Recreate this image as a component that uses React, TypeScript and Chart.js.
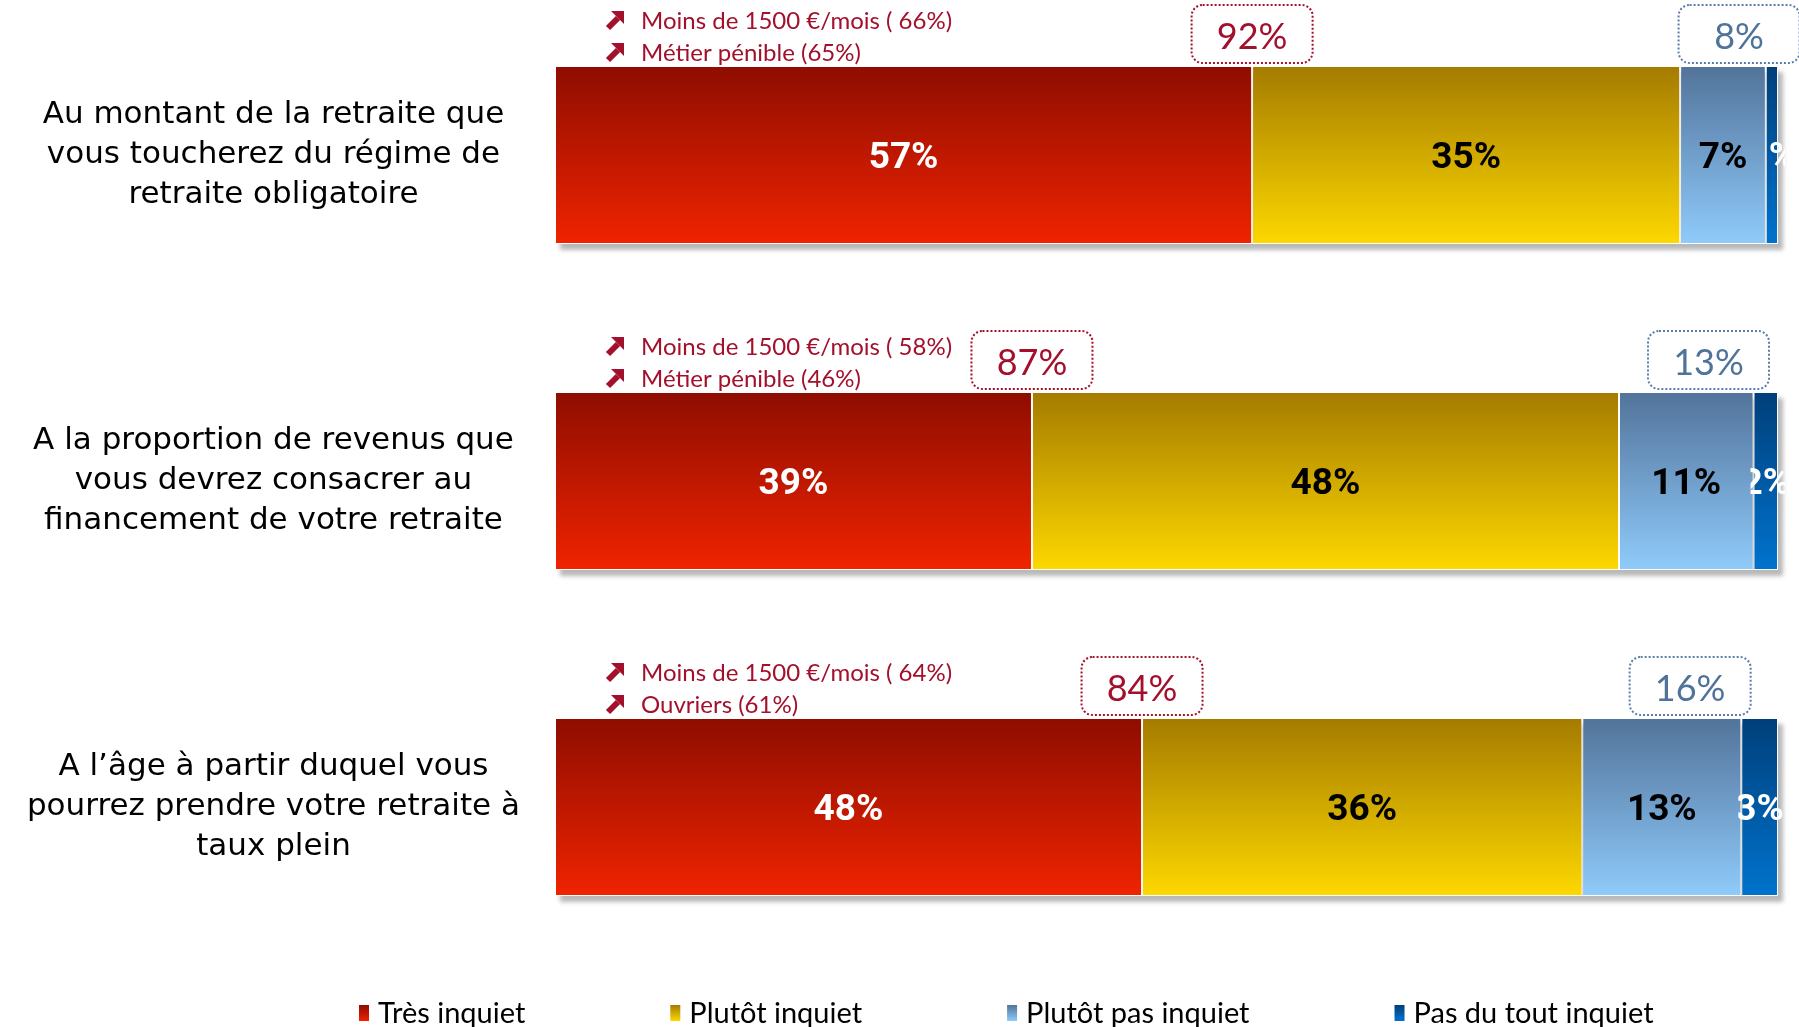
import React, { useEffect, useRef } from "react";
import { Chart, registerables } from "chart.js";

Chart.register(...registerables);

// ---------- data ----------
const categories: string[][] = [
  ["Au montant de la retraite que", "vous toucherez du régime de", "retraite obligatoire"],
  ["A la proportion de revenus que", "vous devrez consacrer au", "financement de votre retraite"],
  ["A l’âge à partir duquel vous", "pourrez prendre votre retraite à", "taux plein"],
];
const seriesNames = ["Très inquiet", "Plutôt inquiet", "Plutôt pas inquiet", "Pas du tout inquiet"];
const tresInquiet = [57, 39, 48];
const plutotInquiet = [35, 48, 36];
const plutotPasInquiet = [7, 11, 13];
const pasDuToutInquiet = [1, 2, 3];
const highlightFirst = [
  "Moins de 1500 €/mois ( 66%)",
  "Moins de 1500 €/mois ( 58%)",
  "Moins de 1500 €/mois ( 64%)",
];
const highlightSecond = ["Métier pénible (65%)", "Métier pénible (46%)", "Ouvriers (61%)"];

// ---------- styles ----------
const W = 1799;
const H = 1027;
const SHIFT = 8; // canvas is raised by this many pixels so the first band starts above the page
const CH = H + SHIFT;
const BAR_PCT = 0.546;
const gradientStops: [string, string][] = [
  ["#8E0D00", "#F02300"],
  ["#A47B00", "#FDD800"],
  ["#52739A", "#8FCBFB"],
  ["#003F7A", "#0073CD"],
];
const labelColors = ["#FFFFFF", "#000000", "#000000", "#FFFFFF"];
const RED_TXT = "#A3102C";
const BLUE_TXT = "#4F7399";
const BLUE_BORDER = "#5A7EA8";

function barGradient(chart: any, index: number, series: number) {
  const y = chart.scales?.y;
  if (!y) return gradientStops[series][1];
  const c = y.getPixelForValue(index);
  const half = ((y.bottom - y.top) / categories.length) * BAR_PCT / 2;
  if (!isFinite(c) || !isFinite(half) || half <= 0) return gradientStops[series][1];
  const g = chart.ctx.createLinearGradient(0, c - half, 0, c + half);
  g.addColorStop(0, gradientStops[series][0]);
  g.addColorStop(1, gradientStops[series][1]);
  return g;
}

function roundRect(ctx: CanvasRenderingContext2D, x: number, y: number, w: number, h: number, r: number) {
  ctx.beginPath();
  ctx.moveTo(x + r, y);
  ctx.lineTo(x + w - r, y);
  ctx.arcTo(x + w, y, x + w, y + r, r);
  ctx.lineTo(x + w, y + h - r);
  ctx.arcTo(x + w, y + h, x + w - r, y + h, r);
  ctx.lineTo(x + r, y + h);
  ctx.arcTo(x, y + h, x, y + h - r, r);
  ctx.lineTo(x, y + r);
  ctx.arcTo(x, y, x + r, y, r);
  ctx.closePath();
}

function drawArrow(ctx: CanvasRenderingContext2D, cx: number, cy: number, color: string) {
  ctx.save();
  ctx.fillStyle = color;
  ctx.strokeStyle = color;
  ctx.beginPath();
  ctx.moveTo(cx + 9, cy - 9);
  ctx.lineTo(cx + 9, cy + 4);
  ctx.lineTo(cx - 4, cy - 9);
  ctx.closePath();
  ctx.fill();
  ctx.lineWidth = 6;
  ctx.lineCap = "butt";
  ctx.beginPath();
  ctx.moveTo(cx - 7, cy + 8);
  ctx.lineTo(cx + 3, cy - 2);
  ctx.stroke();
  ctx.restore();
}

const shadowPlugin = {
  id: "barShadow",
  beforeDatasetsDraw(chart: any) {
    const ctx = chart.ctx as CanvasRenderingContext2D;
    const meta0 = chart.getDatasetMeta(0);
    const xs = chart.scales.x;
    meta0.data.forEach((bar: any, i: number) => {
      const total = chart.data.datasets.reduce((s: number, d: any) => s + (d.data[i] as number), 0);
      const x0 = xs.getPixelForValue(0);
      const x1 = xs.getPixelForValue(total);
      const top = bar.y - bar.height / 2;
      ctx.save();
      ctx.filter = "blur(2px)";
      ctx.fillStyle = "rgba(0,0,0,0.28)";
      ctx.fillRect(x0 + 5, top + 6, x1 - x0, bar.height);
      ctx.restore();
    });
  },
};

const labelsPlugin = {
  id: "segmentLabels",
  afterDatasetsDraw(chart: any) {
    const ctx = chart.ctx as CanvasRenderingContext2D;
    const area = chart.chartArea;
    chart.data.datasets.forEach((ds: any, di: number) => {
      const meta = chart.getDatasetMeta(di);
      meta.data.forEach((bar: any, i: number) => {
        const left = Math.min(bar.x, bar.base);
        const right = Math.max(bar.x, bar.base);
        const cx = (left + right) / 2;
        ctx.save();
        ctx.beginPath();
        ctx.rect(left - 3, bar.y - bar.height / 2, area.right + 7 - (left - 3), bar.height);
        ctx.clip();
        ctx.font = "bold 37px Roboto";
        ctx.fillStyle = labelColors[di];
        ctx.textAlign = "center";
        ctx.textBaseline = "middle";
        ctx.fillText(`${ds.data[i]}%`, cx, bar.y + 4);
        ctx.restore();
      });
    });
  },
};

const annotationPlugin = {
  id: "annotations",
  afterDraw(chart: any) {
    const ctx = chart.ctx as CanvasRenderingContext2D;
    const area = chart.chartArea;
    const xs = chart.scales.x;
    const meta0 = chart.getDatasetMeta(0);
    meta0.data.forEach((bar: any, i: number) => {
      const top = bar.y - bar.height / 2;
      ctx.save();
      ctx.font = "24px Lato";
      ctx.fillStyle = RED_TXT;
      ctx.textAlign = "left";
      ctx.textBaseline = "middle";
      const tx = area.left + 86;
      ctx.fillText(highlightFirst[i], tx, top - 45);
      ctx.fillText(highlightSecond[i], tx, top - 13);
      drawArrow(ctx, area.left + 60, top - 46, RED_TXT);
      drawArrow(ctx, area.left + 60, top - 14, RED_TXT);
      ctx.restore();

      const worried = tresInquiet[i] + plutotInquiet[i];
      const notWorried = plutotPasInquiet[i] + pasDuToutInquiet[i];
      const total = worried + notWorried;
      const boxW = 121;
      const boxH = 58;
      const boxBottom = top - 3;

      const drawBox = (cx: number, text: string, border: string, color: string) => {
        ctx.save();
        roundRect(ctx, cx - boxW / 2, boxBottom - boxH, boxW, boxH, 11);
        ctx.fillStyle = "#FFFFFF";
        ctx.fill();
        ctx.setLineDash([2, 2]);
        ctx.lineWidth = 2;
        ctx.strokeStyle = border;
        ctx.stroke();
        ctx.font = "36px Lato";
        ctx.fillStyle = color;
        ctx.textAlign = "center";
        ctx.textBaseline = "middle";
        ctx.fillText(text, cx, boxBottom - boxH / 2 + 3);
        ctx.restore();
      };
      drawBox(xs.getPixelForValue(tresInquiet[i]), `${worried}%`, RED_TXT, RED_TXT);
      drawBox(xs.getPixelForValue((worried + total) / 2) + 10, `${notWorried}%`, BLUE_BORDER, BLUE_TXT);
    });

    // legend
    ctx.save();
    ctx.font = "29px Lato";
    ctx.textBaseline = "middle";
    ctx.textAlign = "left";
    let x = 359;
    const ly = 1013 + SHIFT;
    seriesNames.forEach((name, si) => {
      const g = ctx.createLinearGradient(0, ly - 8, 0, ly + 8);
      g.addColorStop(0, gradientStops[si][0]);
      g.addColorStop(1, gradientStops[si][1]);
      ctx.fillStyle = g;
      ctx.fillRect(x, ly - 8, 10, 16);
      ctx.fillStyle = "#000000";
      ctx.fillText(name, x + 19, ly + 1);
      x += 19 + ctx.measureText(name).width + 145;
    });
    ctx.restore();
  },
};

export default function App() {
  const canvasRef = useRef<HTMLCanvasElement | null>(null);

  useEffect(() => {
    if (!canvasRef.current) return;
    const seriesData = [tresInquiet, plutotInquiet, plutotPasInquiet, pasDuToutInquiet];
    const chart = new Chart(canvasRef.current, {
      type: "bar",
      data: {
        labels: categories,
        datasets: seriesNames.map((name, si) => ({
          label: name,
          data: seriesData[si],
          backgroundColor: (c: any) => barGradient(c.chart, c.dataIndex, si),
          borderColor: "#FFFFFF",
          borderWidth: 1,
          borderSkipped: false,
          barPercentage: BAR_PCT,
          categoryPercentage: 1,
        })),
      },
      options: {
        indexAxis: "y",
        responsive: false,
        maintainAspectRatio: false,
        animation: false,
        devicePixelRatio: 1,
        layout: { autoPadding: false, padding: { top: 0, bottom: 57, left: 0, right: 21 } },
        plugins: {
          legend: { display: false },
          tooltip: { enabled: false },
          title: { display: false },
        },
        scales: {
          x: { stacked: true, min: 0, max: 100, display: false },
          y: {
            stacked: true,
            grid: { display: false, drawTicks: false },
            border: { display: false },
            ticks: {
              autoSkip: false,
              crossAlign: "center",
              padding: 35,
              color: "#000000",
              font: { family: "'DejaVu Sans'", size: 31, lineHeight: "40px" },
            },
            afterFit: (s: any) => {
              s.width = 555;
              s.paddingTop = 0;
              s.paddingBottom = 0;
            },
          },
        },
      } as any,
      plugins: [shadowPlugin, labelsPlugin, annotationPlugin],
    });
    return () => chart.destroy();
  }, []);

  return (
    <div style={{ position: "fixed", left: 0, top: 0, width: W, height: H, background: "#FFFFFF", overflow: "hidden" }}>
      <canvas
        ref={canvasRef}
        width={W}
        height={CH}
        style={{ position: "absolute", left: 0, top: -SHIFT, display: "block", width: W, height: CH }}
      />
    </div>
  );
}
